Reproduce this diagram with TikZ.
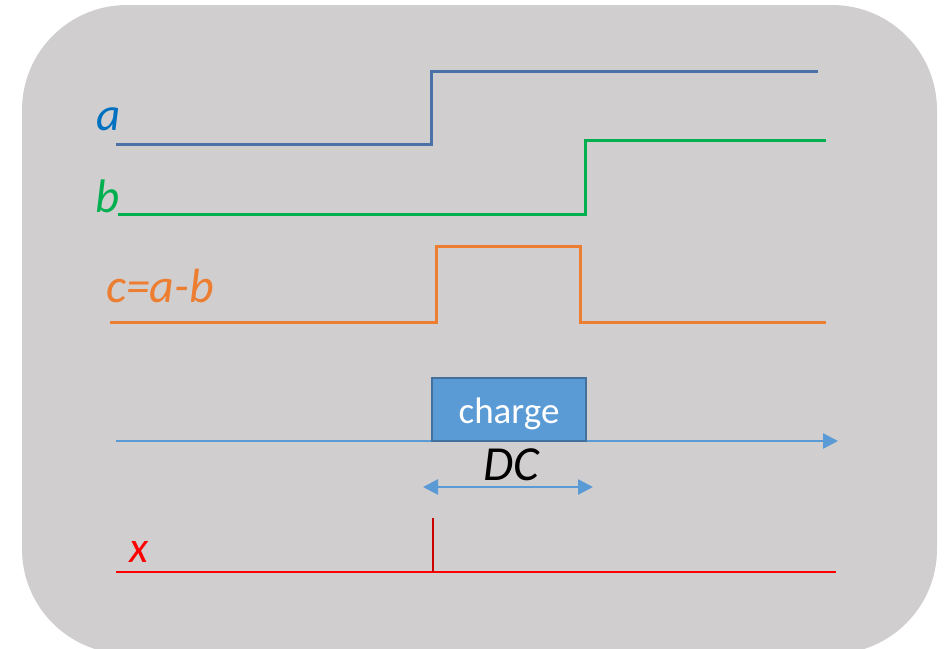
\documentclass[tikz,border=0pt]{standalone}
\usepackage{fontspec}
\setmainfont{Carlito}
\usetikzlibrary{arrows.meta}
\definecolor{bgc}{HTML}{D0CECE}
\definecolor{sigA}{HTML}{4A72A6}
\definecolor{labA}{HTML}{0070C0}
\definecolor{sigB}{HTML}{00B050}
\definecolor{sigC}{HTML}{ED7D31}
\definecolor{axisc}{HTML}{5B9BD5}
\definecolor{boxb}{HTML}{41719C}
\definecolor{sigX}{HTML}{FF0000}
\tikzset{
  lab/.style={font=\itshape, inner sep=0pt, anchor=base},
  sig/.style={line width=3pt, line join=miter},
  tipT/.style={-{Triangle[length=15pt,width=15pt]}},
}
\begin{document}
\begin{tikzpicture}[x=1pt,y=-1pt]
\useasboundingbox (0,0) rectangle (944,648);
\begin{scope}
\clip (0,0) rectangle (944,648);
\fill[bgc, rounded corners=105pt] (22,5) rectangle (937,654);
\end{scope}
% signal a
\node[lab, text=labA, font=\fontsize{47}{47}\selectfont\itshape] (la) at (109,130) {a};
\coordinate (a0) at (116,144); \coordinate (a1) at (431,144);
\coordinate (a2) at (431,71); \coordinate (a3) at (818,71);
\draw[sig, sigA] (a0) -- (a1) -- (a2) -- (a3);
% signal b
\node[lab, text=sigB, font=\fontsize{47}{47}\selectfont\itshape] (lb) at (108,212) {b};
\coordinate (b0) at (118,214); \coordinate (b1) at (585,214);
\coordinate (b2) at (585,140); \coordinate (b3) at (826,140);
\draw[sig, sigB] (b0) -- (b1) -- (b2) -- (b3);
% signal c
\node[lab, text=sigC, font=\fontsize{48}{48}\selectfont\itshape] (lc) at (160,302) {c=a-b};
\coordinate (c0) at (110,322); \coordinate (c1) at (436,322);
\coordinate (c2) at (436,246); \coordinate (c3) at (580,246);
\coordinate (c4) at (580,322); \coordinate (c5) at (826,322);
\draw[sig, sigC] (c0) -- (c1) -- (c2) -- (c3) -- (c4) -- (c5);
% axis
\coordinate (ax0) at (116,441); \coordinate (ax1) at (838,441);
\draw[axisc, line width=2.4pt, tipT] (ax0) -- (ax1);
% charge box
\node[draw=boxb, fill=axisc, line width=2.4pt, minimum width=154pt, minimum height=63pt,
      inner sep=0pt, text height=36pt, text depth=8pt, text=white,
      font=\fontsize{37}{37}\selectfont] (charge) at (509,409.5) {charge};
% DC
\node[lab, font=\fontsize{49}{49}\selectfont\itshape] (dc) at (511,480) {DC};
\coordinate (d0) at (423,487); \coordinate (d1) at (593,487);
\draw[axisc, line width=2.4pt, {Triangle[length=15pt,width=15pt]}-{Triangle[length=15pt,width=15pt]}] (d0) -- (d1);
% x
\node[lab, text=sigX, font=\fontsize{44}{44}\selectfont\itshape] (lx) at (139,562) {x};
\coordinate (x0) at (116,572); \coordinate (x1) at (836,572);
\coordinate (xs) at (433,518); \coordinate (xb) at (433,572);
\draw[sigX, line width=2pt] (x0) -- (x1);
\draw[sigX!80!black, line width=1.3pt] (xb) -- (xs);
\end{tikzpicture}
\end{document}
